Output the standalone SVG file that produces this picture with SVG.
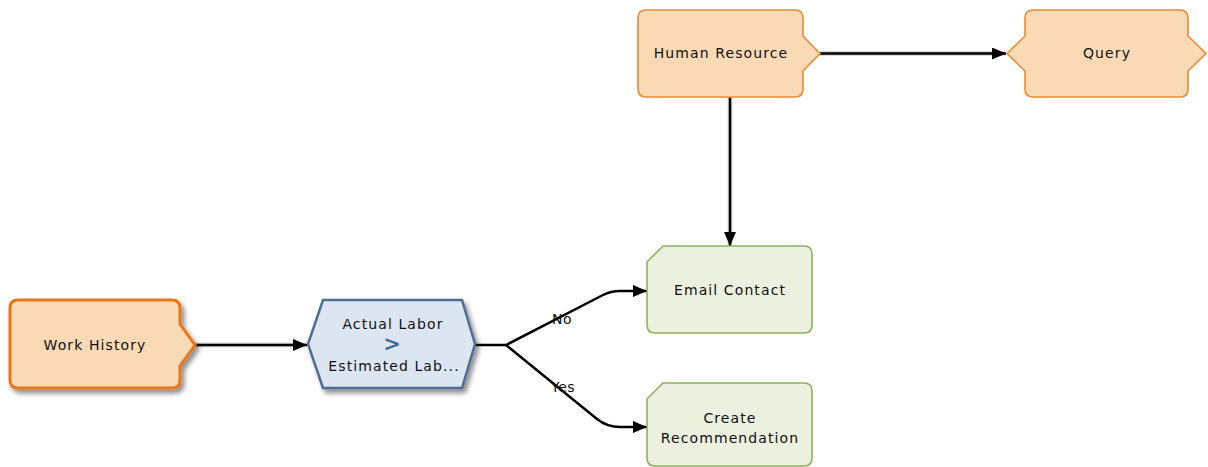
<svg xmlns="http://www.w3.org/2000/svg" width="1208" height="467" viewBox="0 0 1208 467">
<defs>
<style>
.lbl{font-family:"DejaVu Sans",Verdana,sans-serif;font-size:14px;fill:#111;text-anchor:middle;letter-spacing:1.1px}
.edge{fill:none;stroke:#000;stroke-width:2.5}
.halo{fill:none;stroke:#000;stroke-opacity:0.15;stroke-width:5}
.orange{fill:#F9DAB5;stroke:#EC8A35;stroke-width:1.6}
.green{fill:#EBF0DF;stroke:#8DB15E;stroke-width:1.6}
.elbl{font-family:"DejaVu Sans",Verdana,sans-serif;font-size:14px;fill:#111;text-anchor:middle;letter-spacing:0.4px}
</style>
<filter id="sh" x="-20%" y="-20%" width="150%" height="150%">
<feGaussianBlur in="SourceAlpha" stdDeviation="2.5"/>
<feOffset dx="3" dy="4" result="b"/>
<feComponentTransfer><feFuncA type="linear" slope="0.45"/></feComponentTransfer>
<feMerge><feMergeNode/><feMergeNode in="SourceGraphic"/></feMerge>
</filter>
<marker id="ah" markerWidth="14" markerHeight="12" refX="14" refY="6" orient="auto" markerUnits="userSpaceOnUse">
<path d="M0,0 L14,6 L0,12 Z" fill="#000"/>
</marker>
</defs>

<g id="connectors">
<path class="halo" d="M195,345 H306"/>
<path class="edge" d="M195,345 H307" marker-end="url(#ah)"/>
<path class="halo" d="M820,53.5 H1005"/>
<path class="edge" d="M820,53.5 H1006" marker-end="url(#ah)"/>
<path class="halo" d="M730,97 V245"/>
<path class="edge" d="M730,97 V246" marker-end="url(#ah)"/>
<path class="edge" d="M475,345 H506 L603,295 Q611,291 620,291 H647" marker-end="url(#ah)"/>
<path class="edge" d="M506,345 L597,419 Q607,427 620,427 H647" marker-end="url(#ah)"/>
<text class="elbl" x="562" y="324">No</text>
<text class="elbl" x="563" y="392">Yes</text>
</g>

<g id="work-history">
<path filter="url(#sh)" d="M18,300 H172 Q180,300 180,308 V324 L195,345 L180,366 V380 Q180,388 172,388 H18 Q10,388 10,380 V308 Q10,300 18,300 Z" fill="#F9DAB5" stroke="#E8771E" stroke-width="3"/>
<text class="lbl" x="95" y="350" font-size="13" letter-spacing="0.2">Work History</text>
</g>

<g id="actual-labor">
<path filter="url(#sh)" d="M323,300 H462 L475,344 L462,388 H323 L308,344 Z" fill="#DCE6F2" stroke="#4F6E95" stroke-width="2.5"/>
<text class="lbl" x="393" y="329">Actual Labor</text>
<text x="392" y="351" font-family="DejaVu Sans,Verdana,sans-serif" font-size="21" font-weight="bold" fill="#3F67A2" text-anchor="middle">&gt;</text>
<text class="lbl" x="394" y="371" letter-spacing="0.7">Estimated Lab...</text>
</g>

<g id="human-resource">
<path class="orange" d="M646,10 H795 Q803,10 803,18 V36 L820,53.5 L803,71 V89 Q803,97 795,97 H646 Q638,97 638,89 V18 Q638,10 646,10 Z"/>
<text class="lbl" x="721" y="58">Human Resource</text>
</g>

<g id="query">
<path class="orange" d="M1033,10 H1180 Q1188,10 1188,18 V36 L1206,53.5 L1188,71 V89 Q1188,97 1180,97 H1033 Q1025,97 1025,89 V71 L1007,53.5 L1025,36 V18 Q1025,10 1033,10 Z"/>
<text class="lbl" x="1107" y="58">Query</text>
</g>

<g id="email-contact">
<path class="green" d="M663,246 H804 Q812,246 812,254 V325 Q812,333 804,333 H655 Q647,333 647,325 V262 Z"/>
<text class="lbl" x="730" y="295">Email Contact</text>
</g>

<g id="create-recommendation">
<path class="green" d="M663,383 H804 Q812,383 812,391 V458 Q812,466 804,466 H655 Q647,466 647,458 V399 Z"/>
<text class="lbl" x="730" y="423">Create</text>
<text class="lbl" x="730" y="443">Recommendation</text>
</g>
</svg>
